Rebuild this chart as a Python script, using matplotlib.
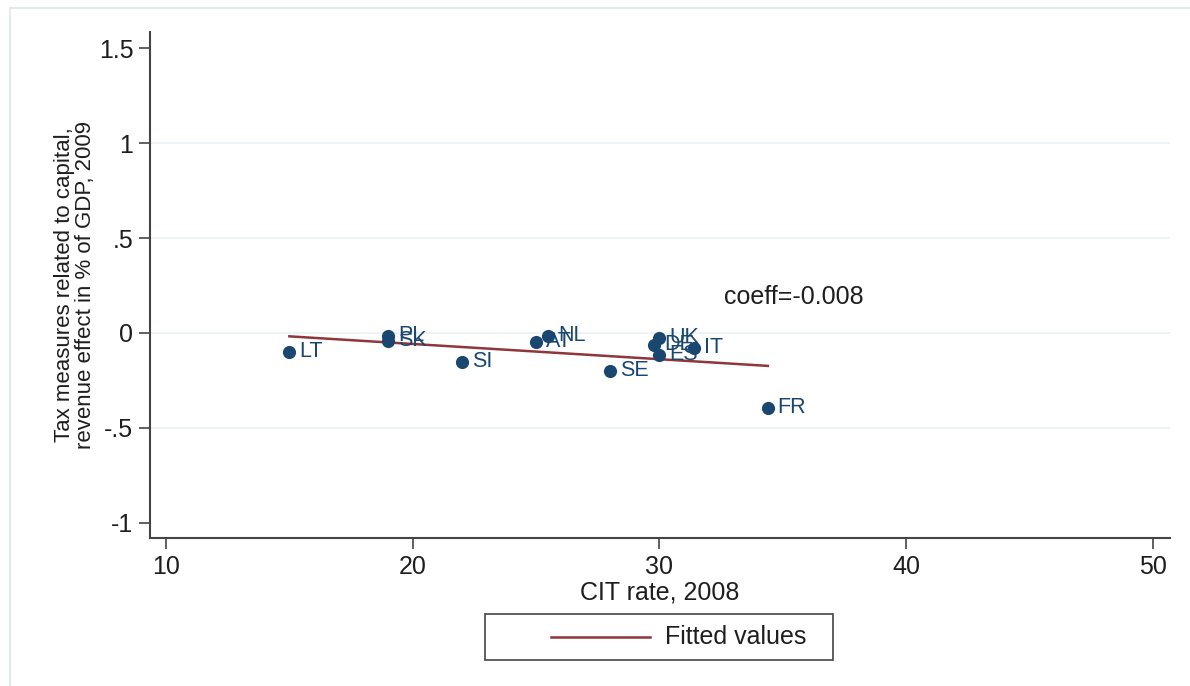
import matplotlib.pyplot as plt
import numpy as np
from matplotlib.lines import Line2D
from matplotlib.patches import Rectangle

plt.rcParams["font.family"] = ["Liberation Sans", "DejaVu Sans"]

# Country data
countries = ["LT", "PL", "SK", "SI", "AT", "NL", "SE", "UK", "DE", "ES", "IT", "FR"]
cit_rate = [15.0, 19.0, 19.0, 22.0, 25.0, 25.5, 28.0, 30.0, 29.8, 30.0, 31.4, 34.4]
revenue_effect = [-0.10, -0.016, -0.04, -0.153, -0.047, -0.016, -0.20, -0.026,
                  -0.063, -0.116, -0.079, -0.395]

x_ticks = [10, 20, 30, 40, 50]
y_ticks = [-1, -0.5, 0, 0.5, 1, 1.5]
y_tick_labels = ["-1", "-.5", "0", ".5", "1", "1.5"]

navy = "#1a476f"
maroon = "#90353b"
grid_col = "#eaf2f3"
spine_col = "#444444"
text_col = "#1e1e1e"

x = np.array(cit_rate)
y = np.array(revenue_effect)
slope, intercept = np.polyfit(x, y, 1)
x_fit = np.array([x.min(), x.max()])
y_fit = intercept + slope * x_fit

fig = plt.figure(figsize=(11.9, 6.86), dpi=100)
fig.patch.set_facecolor("white")
fig.add_artist(Rectangle((10 / 1190, -0.05), 2.0, 1 - 8 / 686 + 0.05,
                         transform=fig.transFigure, fill=False,
                         edgecolor="#e3eaec", linewidth=1.5))

ax = fig.add_axes([150 / 1190, 1 - 538 / 686, 1020 / 1190, 506 / 686])
ax.set_xlim(9.35, 50.7)
ax.set_ylim(-1.08, 1.585)

for yt in y_ticks[1:-1]:
    ax.axhline(yt, color=grid_col, linewidth=1.2, zorder=0)

ax.plot(x_fit, y_fit, color=maroon, linewidth=1.8, zorder=2)
ax.scatter(x, y, s=90, color=navy, zorder=3, linewidths=0)
for name, xi, yi in zip(countries, x, y):
    ax.annotate(name, (xi, yi), xytext=(7, 0), textcoords="offset points",
                ha="left", va="center", fontsize=15.5, color=navy, zorder=4)

ax.text(32.6, 0.19, "coeff=-0.008", fontsize=18, color=text_col,
        ha="left", va="center")

ax.set_xticks(x_ticks)
ax.set_yticks(y_ticks)
ax.set_yticklabels(y_tick_labels)
ax.tick_params(axis="both", labelsize=18, length=8, width=1.2,
               color=spine_col, labelcolor=text_col, pad=4)
for side in ["top", "right"]:
    ax.spines[side].set_visible(False)
for side in ["left", "bottom"]:
    ax.spines[side].set_color(spine_col)
    ax.spines[side].set_linewidth(1.5)

ax.set_xlabel("CIT rate, 2008", fontsize=18, color=text_col, labelpad=1)
ax.set_ylabel("Tax measures related to capital,\nrevenue effect in % of GDP, 2009",
              fontsize=16, color=text_col, labelpad=2, linespacing=1.0)

# Legend box below the plot, drawn like Stata's
fig.add_artist(Rectangle((485 / 1190, 1 - 660 / 686), 348 / 1190, 46 / 686,
                         transform=fig.transFigure, fill=True, facecolor="white",
                         edgecolor=spine_col, linewidth=1.2))
fig.add_artist(Line2D([551 / 1190, 650 / 1190], [1 - 637 / 686, 1 - 637 / 686],
                      transform=fig.transFigure, color=maroon, linewidth=1.8))
fig.text(665 / 1190, 1 - 637 / 686, "Fitted values", fontsize=18,
         color=text_col, ha="left", va="center")

fig.savefig("out.png", dpi=100)
